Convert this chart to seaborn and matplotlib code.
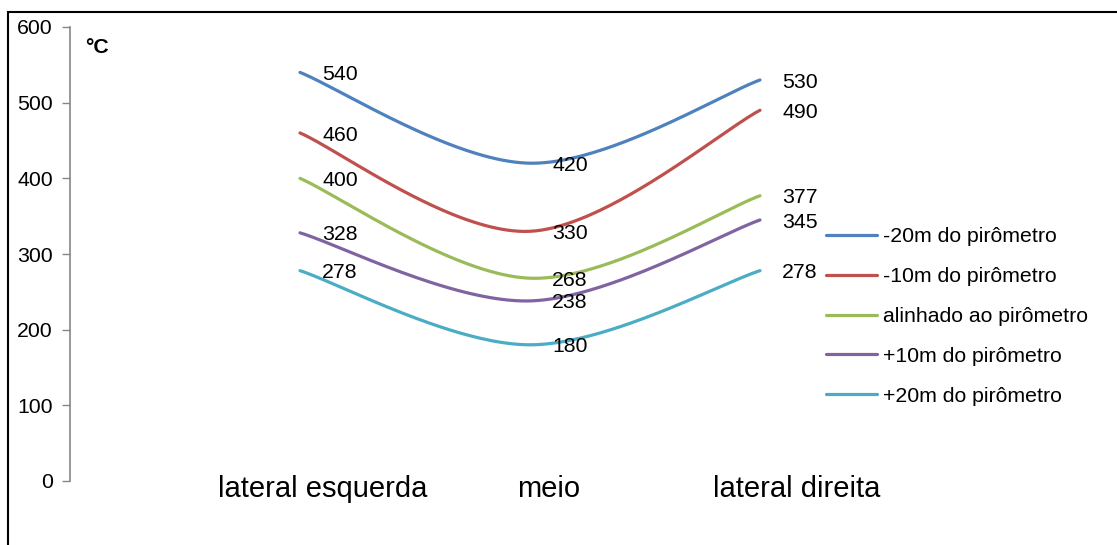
import numpy as np
import pandas as pd
import seaborn as sns
import matplotlib.pyplot as plt
import matplotlib.transforms as mtransforms
from matplotlib.patches import Rectangle

# data
categories = ["lateral esquerda", "meio", "lateral direita"]
series_names = ["-20m do pirômetro", "-10m do pirômetro", "alinhado ao pirômetro",
                "+10m do pirômetro", "+20m do pirômetro"]
menos20 = [540, 420, 530]
menos10 = [460, 330, 490]
alinhado = [400, 268, 377]
mais10 = [328, 238, 345]
mais20 = [278, 180, 278]
values = [menos20, menos10, alinhado, mais10, mais20]
colors = ["#4F81BD", "#C0504D", "#9BBB59", "#8064A2", "#4BACC6"]


def excel_smooth(yvals, n=80):
    # Excel-style smoothed line (bezier with 1/6 tangents)
    pts = np.column_stack([np.arange(len(yvals)), np.asarray(yvals, float)])
    k = len(pts)
    out = []
    for i in range(k - 1):
        pa = pts[i - 1] if i > 0 else pts[i]
        pd_ = pts[i + 2] if i + 2 < k else pts[i + 1]
        c1 = pts[i] + (pts[i + 1] - pa) / 6
        c2 = pts[i + 1] - (pd_ - pts[i]) / 6
        t = np.linspace(0, 1, n)[:, None]
        seg = ((1 - t) ** 3) * pts[i] + 3 * ((1 - t) ** 2) * t * c1 \
            + 3 * (1 - t) * t ** 2 * c2 + t ** 3 * pts[i + 1]
        out.append(seg if i == 0 else seg[1:])
    return np.vstack(out)


rows = []
for name, vals in zip(series_names, values):
    curve = excel_smooth(vals)
    for j, (x, y) in enumerate(curve):
        rows.append({"serie": name, "x": x, "y": y, "ordem": j})
df = pd.DataFrame(rows)

sns.set_style("white")
plt.rcParams["font.family"] = ["Liberation Sans", "DejaVu Sans"]
plt.rcParams["text.color"] = "black"
plt.rcParams["xtick.color"] = "black"
plt.rcParams["ytick.color"] = "black"

fig = plt.figure(figsize=(11.17, 5.45), dpi=100)
ax = fig.add_axes([70 / 1117, 64 / 545, 750 / 1117, 454 / 545])

sns.lineplot(data=df, x="x", y="y", hue="serie", hue_order=series_names,
             palette=colors, sort=False, estimator=None, linewidth=2.3, ax=ax)

# data labels
for vals in values:
    for i, v in enumerate(vals):
        ax.annotate(str(v), (i, v), xytext=(16, -1.5), textcoords="offset points",
                    ha="left", va="center", fontsize=15.3, color="black")

ax.set_xlim(-1, 2 + 60 / 230)
ax.set_ylim(0, 600)
ax.set_yticks(range(0, 601, 100))
ax.set_xticks(range(len(categories)))
ax.set_xticklabels(categories, fontsize=21)
ax.set_xlabel("")
ax.set_ylabel("")
ax.tick_params(axis="x", length=0, pad=-4.5, labelcolor="black")
ax.tick_params(axis="y", left=True, length=5.8, width=1, color="#868686",
               pad=6.5, labelsize=15.3, labelcolor="black")
shifts = [23, 19, 37]
for lab, s in zip(ax.get_xticklabels(), shifts):
    lab.set_transform(lab.get_transform() +
                      mtransforms.ScaledTranslation(s / 100, 0, fig.dpi_scale_trans))

sns.despine(ax=ax, top=True, right=True, bottom=True)
ax.spines["left"].set_color("#868686")
ax.spines["left"].set_linewidth(1.2)

fig.text(85 / 1117, 1 - 47 / 545, "°C", fontsize=15.3, fontweight="bold",
         ha="left", va="center", color="black")

ax.legend(loc="center left", bbox_to_anchor=(826 / 1117, 1 - 316.5 / 545),
          bbox_transform=fig.transFigure, frameon=False, fontsize=15.3,
          borderpad=0, borderaxespad=0, handlelength=2.4, handletextpad=0.3,
          labelspacing=0.98)

# outer frame of the chart
fig.patches.append(Rectangle((8 / 1117, -0.1), 1.2, 1.1 - 12 / 545,
                             transform=fig.transFigure, fill=False,
                             edgecolor="black", linewidth=1.5, clip_on=False))

plt.savefig("out.png", dpi=100)
